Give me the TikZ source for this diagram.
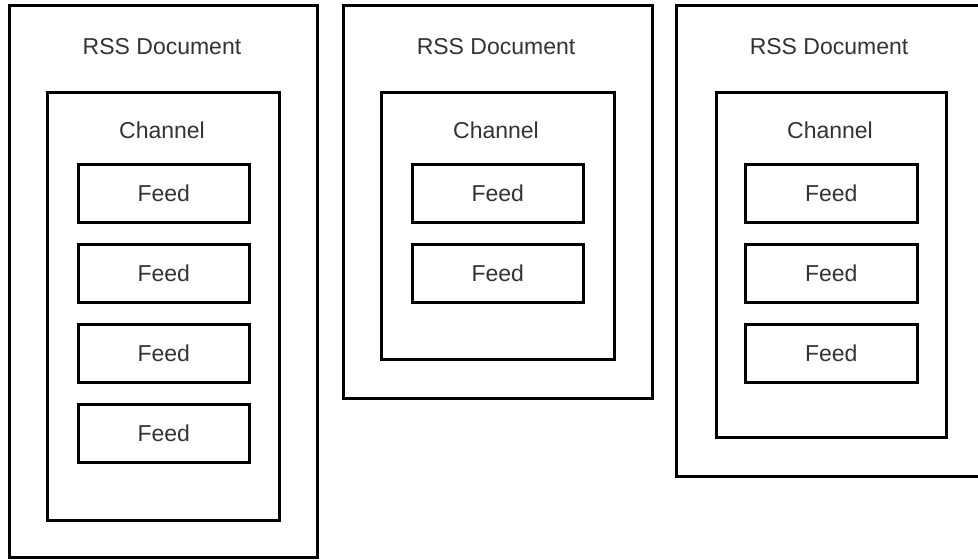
\documentclass[tikz,border=0pt]{standalone}
\usepackage{fontspec}
\setmainfont{Liberation Sans}
\begin{document}
\begin{tikzpicture}[x=1pt,y=-1pt,
  box/.style={draw=black, line width=2.6pt, rectangle, inner sep=0pt, anchor=north west, fill=none},
  lbl/.style={font=\fontsize{23}{27}\selectfont, text=black!80, inner sep=0pt}]
\useasboundingbox (0,0) rectangle (978,560);
\clip (0,0) rectangle (978,560);
% left document
\node[box, minimum width=308pt, minimum height=552pt] (d1) at (8,4) {};
\node[lbl] (d1t) at (162,47) {RSS Document};
\node[box, minimum width=232pt, minimum height=428pt] (c1) at (46,91) {};
\node[lbl] (c1t) at (162,130) {Channel};
\node[box, minimum width=171pt, minimum height=58pt] (f11) at (77,163) {};
\node[box, minimum width=171pt, minimum height=58pt] (f12) at (77,243) {};
\node[box, minimum width=171pt, minimum height=58pt] (f13) at (77,323) {};
\node[box, minimum width=171pt, minimum height=58pt] (f14) at (77,403) {};
\foreach \n in {f11,f12,f13,f14} \node[lbl] at (\n.center) {Feed};
% middle document
\node[box, minimum width=309pt, minimum height=393pt] (d2) at (342,4) {};
\node[lbl] (d2t) at (496,47) {RSS Document};
\node[box, minimum width=233pt, minimum height=267pt] (c2) at (380,91) {};
\node[lbl] (c2t) at (496,130) {Channel};
\node[box, minimum width=171pt, minimum height=58pt] (f21) at (411,163) {};
\node[box, minimum width=171pt, minimum height=58pt] (f22) at (411,243) {};
\foreach \n in {f21,f22} \node[lbl] at (\n.center) {Feed};
% right document
\node[box, minimum width=315pt, minimum height=471pt] (d3) at (675,4) {};
\node[lbl] (d3t) at (829,47) {RSS Document};
\node[box, minimum width=230pt, minimum height=345pt] (c3) at (715,91) {};
\node[lbl] (c3t) at (830,130) {Channel};
\node[box, minimum width=172pt, minimum height=58pt] (f31) at (744,163) {};
\node[box, minimum width=172pt, minimum height=58pt] (f32) at (744,243) {};
\node[box, minimum width=172pt, minimum height=58pt] (f33) at (744,323) {};
\foreach \n in {f31,f32,f33} \node[lbl] at (\n.center) {Feed};
\end{tikzpicture}
\end{document}
